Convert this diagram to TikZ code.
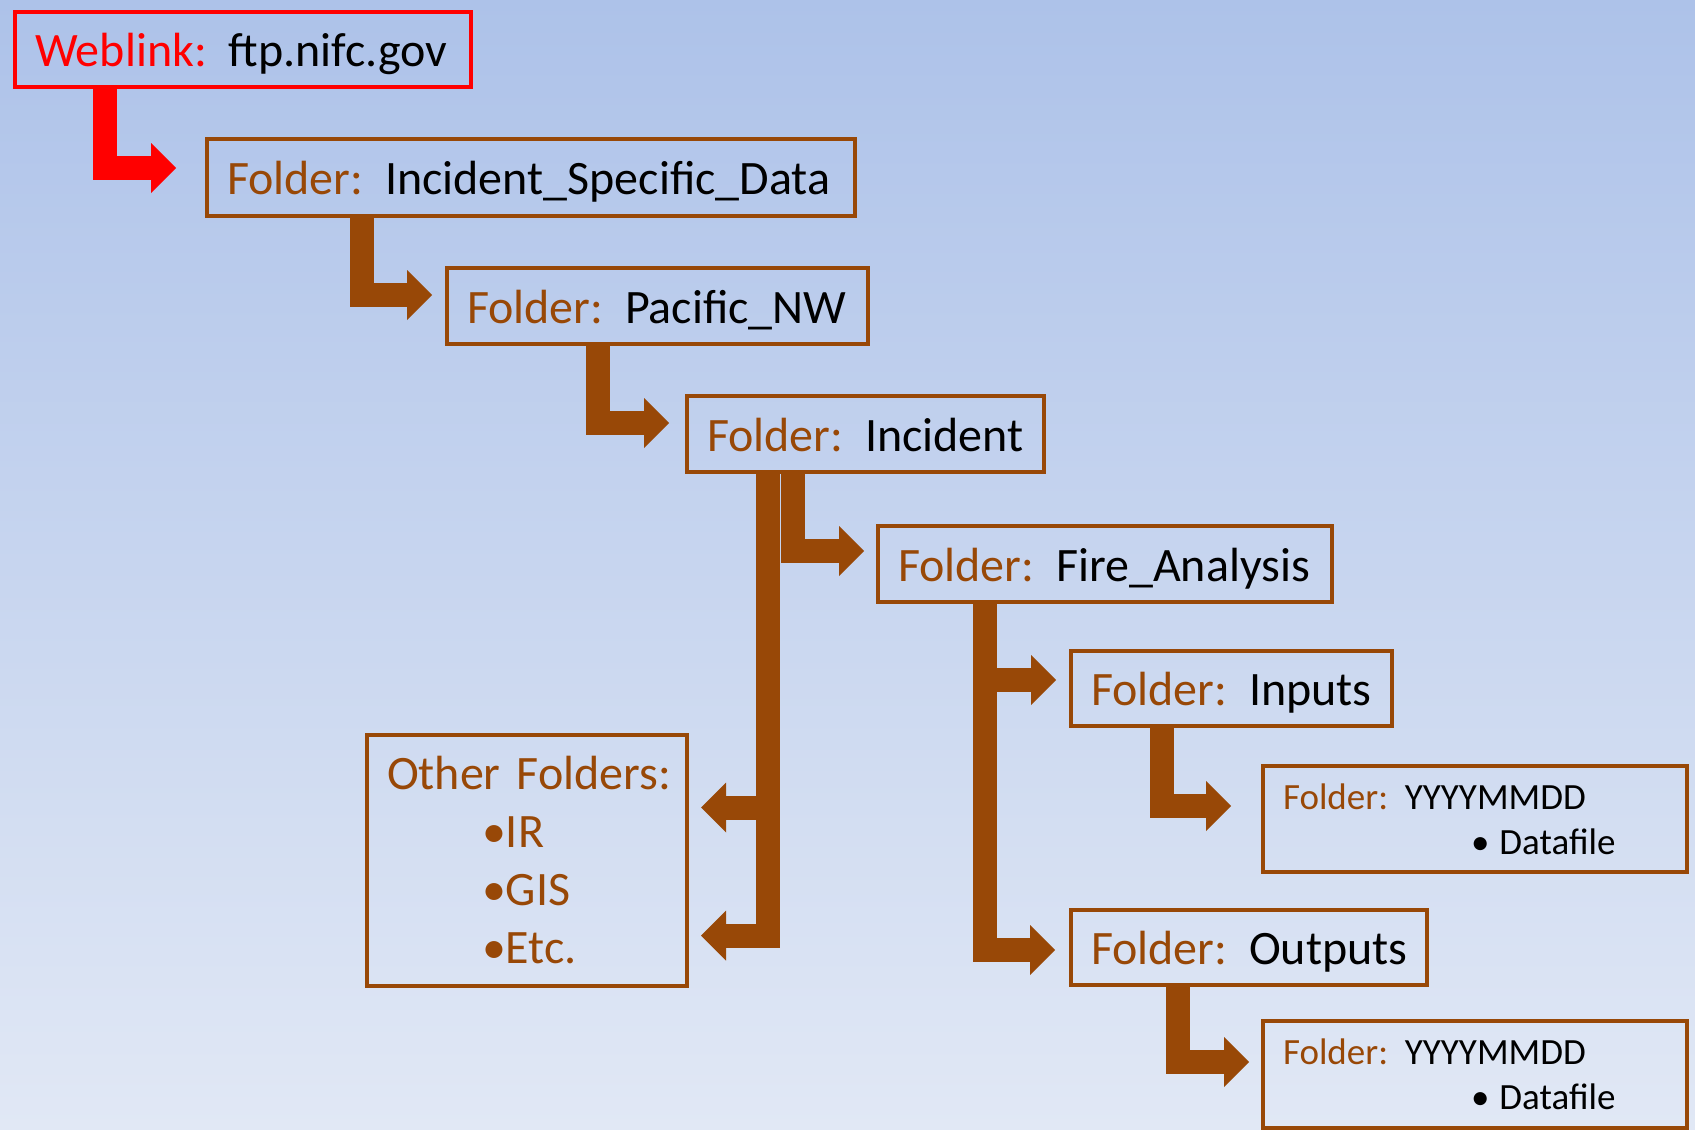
\documentclass[tikz,border=0pt]{standalone}
\usepackage{fontspec}
\setmainfont{Carlito}
\usetikzlibrary{arrows.meta,calc}

\definecolor{fbrown}{RGB}{152,72,7}
\definecolor{bgtop}{RGB}{173,194,233}
\definecolor{bgbot}{RGB}{225,232,245}

\newcommand{\fld}[1]{\mbox{\textcolor{fbrown}{Folder:}\ \hspace{0.12em}#1}}
\newcommand{\bigtxt}{\fontsize{24}{29}\selectfont}
\newcommand{\smalltxt}{\fontsize{18.5}{22.5}\selectfont}

\tikzset{
  folder/.style={draw=fbrown, line width=2pt, anchor=north west, inner xsep=10pt, inner ysep=0pt, align=left, font=\bigtxt},
  oneline/.style={folder, text height=17pt, text depth=0pt},
  link/.style={oneline, draw=red},
  arr/.style={fbrown, line width=12pt, line join=miter, -{Triangle[length=12.5pt,width=25pt,line width=0pt]}},
  webarr/.style={arr, red},
}

\begin{document}
\begin{tikzpicture}[x=0.5pt,y=-0.5pt]
  %\draw[gray,very thin] (0,0) grid[step=100] (1695,1129);
  \shade[top color=bgtop,bottom color=bgbot] (0,0) rectangle (1695,1129);
  \useasboundingbox (0,0) rectangle (1695,1129);

  \node[link, text width=208pt, minimum height=37.5pt] (web) at (13,10) {\mbox{\textcolor{red}{Weblink:}\ \hspace{0.12em}ftp.nifc.gov}};
  \node[oneline, text width=304pt, minimum height=38.5pt] (isd) at (205,137) {\fld{Incident\_Specific\_Data}};
  \node[oneline, text width=190.5pt, minimum height=38pt] (pnw) at (445,266) {\fld{Pacific\_NW}};
  \node[oneline, text width=158.5pt, minimum height=38pt] (inc) at (685,394) {\fld{Incident}};
  \node[oneline, text width=207pt, minimum height=38pt] (fire) at (876,524) {\fld{Fire\_Analysis}};
  \node[oneline, text width=140.5pt, minimum height=37.5pt] (inp) at (1069,649) {\fld{Inputs}};
  \node[oneline, text width=158pt, minimum height=37.5pt] (out) at (1069,908) {\fld{Outputs}};
  \node[folder, font=\smalltxt, text width=192pt, minimum height=53pt] (ymd1) at (1261,764)
    {\fld{YYYYMMDD}\\\hspace*{94pt}•\hspace{5pt}Datafile};
  \node[folder, font=\smalltxt, text width=192pt, minimum height=53.5pt] (ymd2) at (1261,1019)
    {\fld{YYYYMMDD}\\\hspace*{94pt}•\hspace{5pt}Datafile};
  \node[folder, text=fbrown, text width=140pt, minimum height=125.5pt] (oth) at (365,733)
    {\mbox{Other Folders:}\\\hspace*{47.5pt}•IR\\\hspace*{47.5pt}•GIS\\\hspace*{47.5pt}•Etc.};

  \draw[webarr] ($(web.south west)+(92,0)$) |- ($(isd.west)+(-29,-9.5)$);
  \draw[arr] ($(isd.south west)+(156.5,0)$) |- ($(pnw.west)+(-13,-11)$);
  \draw[arr] ($(pnw.south west)+(153,0)$) |- ($(inc.west)+(-16,-11)$);

  \coordinate (incbus) at ($(inc.south west)+(83,0)$);
  \coordinate (othup) at ($(oth.east)+(12,-53)$);
  \draw[arr] (incbus) |- ($(oth.east)+(12,75)$);
  \draw[arr] (incbus |- othup) -- (othup);
  \draw[arr] ($(inc.south west)+(108,0)$) |- ($(fire.west)+(-12,-13)$);

  \coordinate (firebus) at ($(fire.south west)+(109,0)$);
  \coordinate (inpin) at ($(inp.west)+(-13,-8.5)$);
  \draw[arr] (firebus) |- ($(out.west)+(-14,2.5)$);
  \draw[arr] (firebus |- inpin) -- (inpin);
  \draw[arr] ($(inp.south west)+(92.5,0)$) |- ($(ymd1.west)+(-30,-13)$);
  \draw[arr] ($(out.south west)+(108.5,0)$) |- ($(ymd2.west)+(-12,-12.5)$);
\end{tikzpicture}
\end{document}
